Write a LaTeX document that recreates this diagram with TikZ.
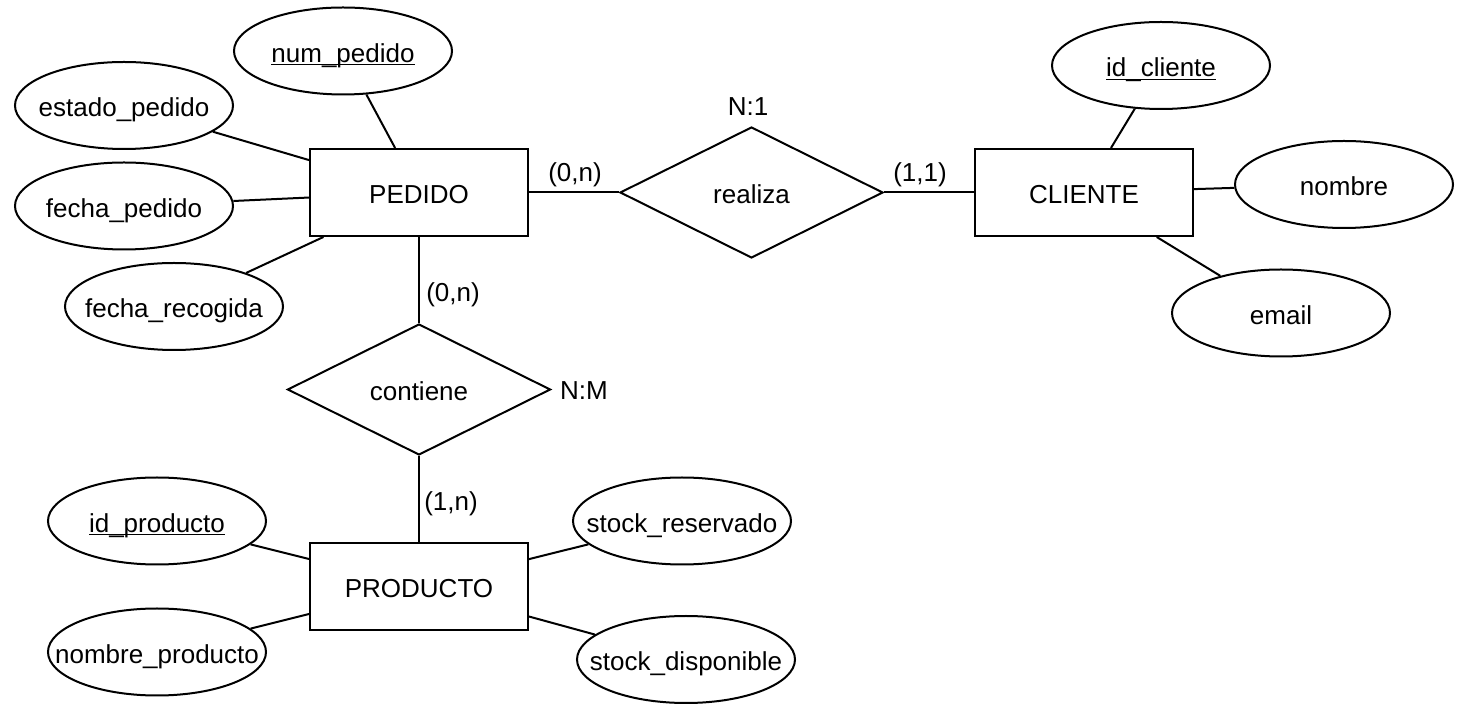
\documentclass[tikz,border=0pt]{standalone}
\usepackage{fontspec}
\setmainfont{Liberation Sans}
\usetikzlibrary{shapes.geometric}
\newcommand\keyattr[1]{\setbox0\hbox{#1}\leavevmode\rlap{\rule[-1.6pt]{\wd0}{0.65pt}}\box0}
\newcommand\zw[1]{\makebox[0pt]{#1}}
\tikzset{
  every node/.style={font=\fontsize{13}{15.6}\selectfont, text height=13pt, text depth=1.7pt},
  entity/.style={draw, line width=1pt, rectangle, minimum width=109pt, minimum height=43.5pt, inner sep=0pt},
  attr/.style={draw, line width=1pt, ellipse, minimum width=109pt, minimum height=43.5pt, inner sep=0pt},
  rel/.style={draw, line width=1pt, diamond, minimum width=131.5pt, minimum height=65.5pt, inner sep=0pt},
  lbl/.style={inner sep=0pt},
  conn/.style={line width=1pt}
}
\begin{document}
\begin{tikzpicture}[x=0.5pt,y=-0.5pt]
\useasboundingbox (0,0) rectangle (1462,704);
% entities
\node[entity] (pedido) at (419,192.5) {PEDIDO};
\node[entity] (cliente) at (1084,192.5) {CLIENTE};
\node[entity] (producto) at (419,586.5) {PRODUCTO};
% relationships
\node[rel] (realiza) at (751.5,192.5) {realiza};
\node[rel] (contiene) at (419,389.5) {contiene};
% attributes
\node[attr] (numped) at (343,51) {\zw{\keyattr{num\_pedido}}};
\node[attr] (estado) at (124,105.5) {\zw{estado\_pedido}};
\node[attr] (fechap) at (124,206) {\zw{fecha\_pedido}};
\node[attr] (fechar) at (174,306.5) {\zw{fecha\_recogida}};
\node[attr] (idcli) at (1161,65.5) {\zw{\keyattr{id\_cliente}}};
\node[attr] (nombre) at (1344,184.5) {\zw{nombre}};
\node[attr] (email) at (1281,313) {\zw{email}};
\node[attr] (idprod) at (157,521) {\zw{\keyattr{id\_producto}}};
\node[attr] (nomprod) at (157,652) {\zw{nombre\_producto}};
\node[attr] (stockres) at (682,521) {\zw{stock\_reservado}};
\node[attr] (stockdis) at (686,659.5) {\zw{stock\_disponible}};
% labels
\node[lbl] (n1) at (748,104) {N:1};
\node[lbl] (c1) at (575,170) {(0,n)};
\node[lbl] (c2) at (920,170) {(1,1)};
\node[lbl] (c3) at (453,290) {(0,n)};
\node[lbl] (nm) at (584,388) {N:M};
\node[lbl] (c4) at (451,499) {(1,n)};
% connectors
\draw[conn] (pedido) -- (realiza);
\draw[conn] (realiza) -- (cliente);
\draw[conn] (pedido) -- (contiene);
\draw[conn] (contiene) -- (producto);
\draw[conn] (numped) -- (pedido);
\draw[conn] (estado) -- (pedido);
\draw[conn] (fechap) -- (pedido);
\draw[conn] (fechar) -- (pedido);
\draw[conn] (idcli) -- (cliente);
\draw[conn] (nombre) -- (cliente);
\draw[conn] (email) -- (cliente);
\draw[conn] (idprod) -- (producto);
\draw[conn] (nomprod) -- (producto);
\draw[conn] (stockres) -- (producto);
\draw[conn] (stockdis) -- (producto);
\end{tikzpicture}
\end{document}
